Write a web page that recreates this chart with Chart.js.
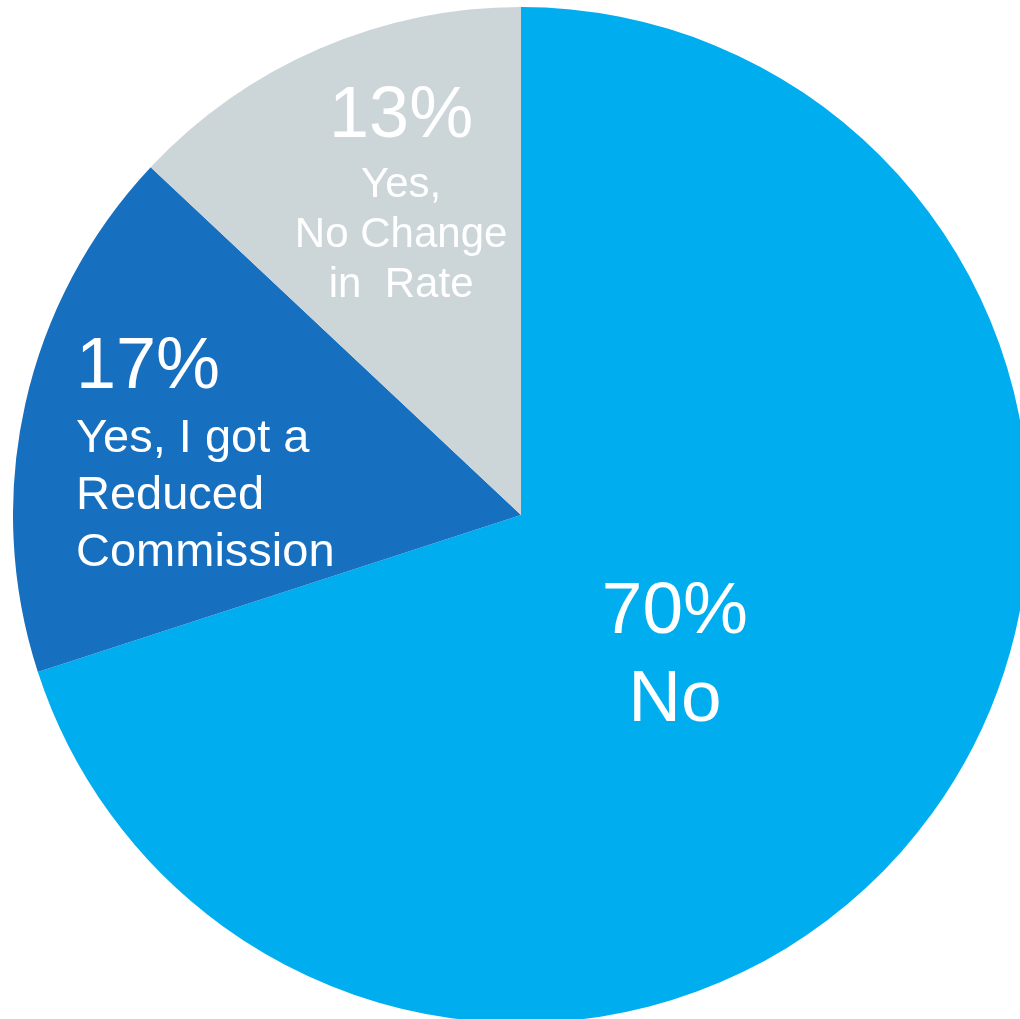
<!DOCTYPE html>
<html>
<head>
<meta charset="utf-8">
<title>Commission pie</title>
<script src="https://cdn.jsdelivr.net/npm/chart.js@4.4.1/dist/chart.umd.min.js"></script>
<style>
  html, body { margin: 0; padding: 0; background: #fff; overflow: hidden; width: 1020px; height: 1019px; }
  #wrap { position: absolute; left: 13px; top: 7px; width: 1016px; height: 1016px; }
</style>
</head>
<body>
<div id="wrap"><canvas id="pie" width="1016" height="1016"></canvas></div>
<script>
// data
const categories = ['No', 'Yes, I got a\nReduced\nCommission', 'Yes,\nNo Change\nin  Rate'];
const values = [70, 17, 13];
const colors = ['#00AEEF', '#166FBF', '#CCD5D8'];

// label placement, in units of the pie radius from its centre (first baseline)
const labelStyle = [
    { fx: 0.303, fy: 0.232, align: 'center', pctSize: 73, textSize: 73, gaps: [88] },
    { fx: -0.876, fy: -0.25, align: 'left', pctSize: 72, textSize: 47, gaps: [64, 57, 57] },
    { fx: -0.236, fy: -0.744, align: 'center', pctSize: 72, textSize: 42, gaps: [60, 50, 50] }
];

const FONT = '"Liberation Sans", Arial, Helvetica, sans-serif';

const sliceLabels = {
    id: 'sliceLabels',
    afterDatasetsDraw(chart) {
        const { ctx } = chart;
        const meta = chart.getDatasetMeta(0);
        const total = values.reduce((a, b) => a + b, 0);
        meta.data.forEach((arc, i) => {
            const st = labelStyle[i];
            const r = arc.outerRadius;
            const x = arc.x + st.fx * r;
            let y = arc.y + st.fy * r;
            const lines = [Math.round(values[i] / total * 100) + '%'].concat(categories[i].split('\n'));
            ctx.save();
            ctx.fillStyle = '#ffffff';
            ctx.textAlign = st.align;
            ctx.textBaseline = 'alphabetic';
            lines.forEach((txt, j) => {
                if (j > 0) y += st.gaps[j - 1];
                ctx.font = (j === 0 ? st.pctSize : st.textSize) + 'px ' + FONT;
                ctx.fillText(txt, x, y);
            });
            ctx.restore();
        });
    }
};

new Chart(document.getElementById('pie'), {
    type: 'pie',
    data: {
        labels: categories.map(c => c.replace(/\n/g, ' ')),
        datasets: [{ data: values, backgroundColor: colors, borderWidth: 0 }]
    },
    options: {
        responsive: false,
        animation: false,
        devicePixelRatio: 1,
        layout: { padding: 0 },
        plugins: { legend: { display: false }, tooltip: { enabled: false } }
    },
    plugins: [sliceLabels]
});
</script>
</body>
</html>
